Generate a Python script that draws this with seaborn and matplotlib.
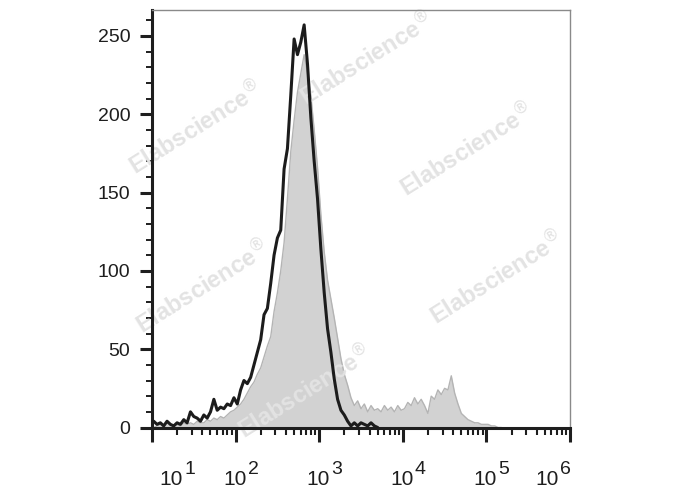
import numpy as np
import pandas as pd
import seaborn as sn
import matplotlib.pyplot as plt
from matplotlib.ticker import LogLocator, MultipleLocator, NullFormatter

# 设置样式和字体
sn.set_style('white')
plt.rcParams['font.family'] = ['Liberation Sans', 'DejaVu Sans']

# 1、数据：对数刻度上的分箱中心（log10），以及两条直方图的计数
log_pos = np.round(np.linspace(1.02, 5.18, 105), 2)

# 灰色填充直方图（对照）
gray_counts = [
    0, 1, 2, 1, 3, 2, 1, 2, 1, 3, 2, 3, 2, 4, 3, 3, 5, 4, 6, 5,
    7, 6, 8, 10, 11, 13, 15, 18, 22, 26, 29, 34, 38, 45, 52, 58, 74, 86, 100, 118,
    146, 176, 196, 214, 226, 238, 226, 212, 190, 166, 136, 112, 94, 82, 70, 57, 44, 34, 27, 19,
    14, 17, 12, 15, 10, 14, 11, 12, 10, 14, 11, 13, 10, 14, 11, 12, 16, 14, 19, 15,
    18, 14, 9, 20, 18, 24, 21, 25, 24, 33, 22, 15, 9, 7, 5, 4, 3, 3, 2, 2,
    2, 1, 1, 0, 0,
]

# 黑色曲线直方图（样本）
black_counts = [
    4, 2, 3, 1, 4, 2, 1, 3, 2, 5, 3, 10, 7, 6, 4, 8, 6, 10, 18, 11,
    13, 12, 15, 14, 19, 15, 24, 30, 28, 32, 40, 48, 56, 72, 76, 92, 110, 121, 126, 165,
    178, 212, 248, 238, 246, 257, 232, 198, 170, 146, 114, 86, 63, 48, 31, 18, 11, 8, 4, 1,
    3, 1, 3, 2, 1, 3, 1, 0,
]

# x 轴刻度标签（10 的幂）
decades = [1, 2, 3, 4, 5, 6]
# 水印文字
watermark = 'Elabscience$^{\\circledR}$'
wm_pos = [(0.285, 0.739), (0.295, 0.414), (0.533, 0.880),
          (0.679, 0.694), (0.722, 0.433), (0.443, 0.200)]

df_gray = pd.DataFrame({'FITC': 10 ** log_pos, 'Count': gray_counts})
df_black = pd.DataFrame({'FITC': 10 ** log_pos[:len(black_counts)], 'Count': black_counts})

# 2、画布
fig = plt.figure(figsize=(6.88, 4.90), dpi=100)
ax = fig.add_axes([152 / 688, 1 - 427.5 / 490, 418 / 688, 417.5 / 490])

# 灰色填充 + 轮廓
ax.fill_between(df_gray['FITC'], df_gray['Count'], color='#d2d2d2', lw=0, zorder=1)
sn.lineplot(data=df_gray, x='FITC', y='Count', color='#b4b4b4', lw=1.0, ax=ax, zorder=1.5)
# 黑色曲线
sn.lineplot(data=df_black, x='FITC', y='Count', color='#1c1c1c', lw=2.2, ax=ax, zorder=4)

# 水印
for (wx, wy) in wm_pos:
    ax.text(wx, wy, watermark, transform=fig.transFigure, rotation=32,
            rotation_mode='anchor', ha='center', va='center', fontsize=17,
            fontweight='bold', color='#e3e3e3', zorder=2)

# 坐标轴
ax.set_xscale('log')
ax.set_xlim(10, 1e6)
ax.set_ylim(0, 266.5)
ax.set_xlabel('')
ax.set_ylabel('')

ax.yaxis.set_major_locator(MultipleLocator(50))
ax.yaxis.set_minor_locator(MultipleLocator(10))
ax.xaxis.set_major_locator(LogLocator(base=10, numticks=20))
ax.xaxis.set_minor_locator(LogLocator(base=10, subs=np.arange(2, 10), numticks=100))
ax.xaxis.set_major_formatter(NullFormatter())
ax.xaxis.set_minor_formatter(NullFormatter())

ax.tick_params(axis='y', which='major', left=True, length=8.5, width=2.2, pad=7,
               labelsize=14, labelcolor='#1e1e1e', color='#1e1e1e')
ax.tick_params(axis='y', which='minor', left=True, length=4, width=1.4, color='#1e1e1e')
ax.tick_params(axis='x', which='major', bottom=True, length=10, width=2.2, color='#1e1e1e')
ax.tick_params(axis='x', which='minor', bottom=True, length=5, width=1.5, color='#1e1e1e')

# 边框：左下粗黑，上右细灰
for s in ['left', 'bottom']:
    ax.spines[s].set_color('#1e1e1e')
    ax.spines[s].set_linewidth(2.2)
for s in ['top', 'right']:
    ax.spines[s].set_color('#8a8a8a')
    ax.spines[s].set_linewidth(1.0)

# x 轴 10^n 标签（手动放置，两端向内收）
base_dx = [19, -1, -1, -1, -1, -23]
for k, dx in zip(decades, base_dx):
    ax.annotate('10', xy=(10 ** k, 0), xycoords=('data', 'axes fraction'),
                xytext=(dx * 0.72, -41.4), textcoords='offset points',
                ha='center', va='baseline', fontsize=15, color='#1e1e1e')
    ax.annotate(str(k), xy=(10 ** k, 0), xycoords=('data', 'axes fraction'),
                xytext=((dx + 13) * 0.72, -33.5), textcoords='offset points',
                ha='left', va='baseline', fontsize=14, color='#1e1e1e')

plt.savefig('out.png', dpi=100)
